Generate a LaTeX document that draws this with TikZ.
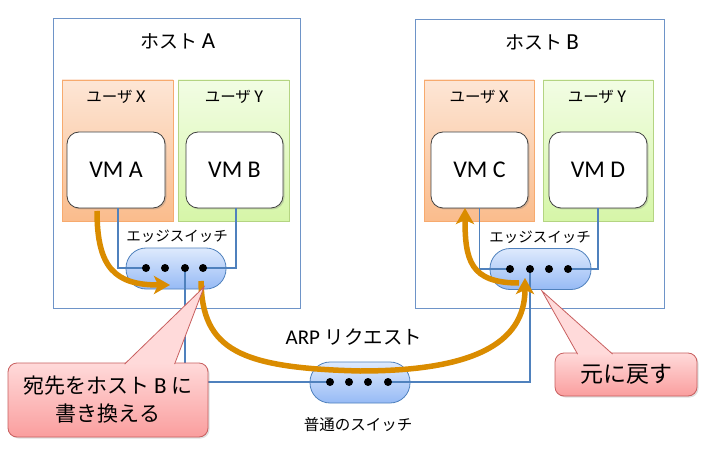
\documentclass[tikz,border=0pt]{standalone}
\usepackage{fontspec}
\setmainfont{Carlito}
\newfontfamily\jp{Noto Sans CJK JP}
\usetikzlibrary{arrows.meta,shadows,calc}
\definecolor{hostline}{RGB}{110,148,200}
\definecolor{netline}{RGB}{79,129,189}
\definecolor{uxtop}{RGB}{253,230,214}
\definecolor{uxbot}{RGB}{250,188,140}
\definecolor{uxline}{RGB}{247,170,110}
\definecolor{uytop}{RGB}{242,253,228}
\definecolor{uybot}{RGB}{214,246,168}
\definecolor{uyline}{RGB}{180,212,130}
\definecolor{swtop}{RGB}{222,234,253}
\definecolor{swbot}{RGB}{150,186,245}
\definecolor{cotop}{RGB}{255,218,218}
\definecolor{cobot}{RGB}{250,158,158}
\definecolor{coline}{RGB}{200,95,95}
\definecolor{flow}{RGB}{218,140,0}
\tikzset{
  hostbox/.style={draw=hostline, line width=1pt, fill=white, minimum width=#1, inner sep=0pt},
  userx/.style={draw=uxline, line width=0.8pt, top color=uxtop, bottom color=uxbot, inner sep=0pt,
    minimum width=111pt, minimum height=141pt, drop shadow={shadow xshift=1pt, shadow yshift=-1pt, opacity=0.25}},
  usery/.style={draw=uyline, line width=0.8pt, top color=uytop, bottom color=uybot, inner sep=0pt,
    minimum width=111pt, minimum height=141pt, drop shadow={shadow xshift=1pt, shadow yshift=-1pt, opacity=0.25}},
  vmbox/.style={draw=black!75, line width=0.8pt, fill=white, rounded corners=12pt, inner sep=0pt,
    minimum width=97pt, minimum height=76pt, font=\fontsize{24}{27}\selectfont,
    drop shadow={shadow xshift=1.5pt, shadow yshift=-1.5pt, opacity=0.3}},
  swbox/.style={draw=netline, line width=0.8pt, top color=swtop, bottom color=swbot, rounded corners=20pt,
    inner sep=0pt, minimum width=100pt, minimum height=41pt},
  portdot/.style={circle, fill=black, inner sep=0pt, minimum size=8pt},
  net/.style={draw=netline, line width=1.5pt},
  flowarrow/.style={draw=flow, line width=5.5pt, -{Stealth[length=16pt,width=18pt,inset=4pt]}},
  notebox/.style={draw=coline, line width=0.8pt, top color=cotop, bottom color=cobot, rounded corners=9pt,
    inner sep=0pt, font=\jp\fontsize{21}{28}\selectfont, align=center,
    drop shadow={shadow xshift=1.5pt, shadow yshift=-1.5pt, opacity=0.25}},
  title/.style={font=\jp\fontsize{19}{22}\selectfont},
  small/.style={font=\jp\fontsize{14.5}{16}\selectfont},
  userlab/.style={font=\jp\fontsize{15.5}{18}\selectfont},
}
\newcommand{\lat}[2][]{{\fontspec{Carlito}#1#2}}
\begin{document}
\begin{tikzpicture}[x=1pt,y=-1pt]
\useasboundingbox (0,0) rectangle (706,454);
\fill[white] (0,0) rectangle (706,454);
% hosts
\node[hostbox=247pt, minimum height=289pt] (hostA) at (176.5,163.5) {};
\node[hostbox=249pt, minimum height=288pt] (hostB) at (539.5,164) {};
\node[title] (titleA) at (178,41) {ホスト \lat[\fontsize{23}{24}\selectfont]{A}};
\node[title] (titleB) at (542,42) {ホスト \lat[\fontsize{23}{24}\selectfont]{B}};
% user areas
\node[userx] (uxA) at (117.5,150.5) {};
\node[usery] (uyA) at (233.5,150.5) {};
\node[userx, minimum width=110pt] (uxB) at (479,150.5) {};
\node[usery, minimum width=110pt] (uyB) at (598,150.5) {};
\node[userlab] (luxA) at (116,97) {ユーザ \lat[\fontsize{18}{18}\selectfont]{X}};
\node[userlab] (luyA) at (234,97) {ユーザ \lat[\fontsize{18}{18}\selectfont]{Y}};
\node[userlab] (luxB) at (479,97) {ユーザ \lat[\fontsize{18}{18}\selectfont]{X}};
\node[userlab] (luyB) at (597,97) {ユーザ \lat[\fontsize{18}{18}\selectfont]{Y}};
% VMs
\node[vmbox, minimum width=98pt] (vmA) at (116,170) {VM A};
\node[vmbox] (vmB) at (234.5,170) {VM B};
\node[vmbox] (vmC) at (479.5,170) {VM C};
\node[vmbox, minimum width=98pt] (vmD) at (598,170) {VM D};
% edge switches
\node[small] (eslA) at (177,236) {エッジスイッチ};
\node[small] (eslB) at (540,237) {エッジスイッチ};
\node[swbox] (swA) at (176,268.5) {};
\node[swbox, minimum width=101pt] (swB) at (540.5,269) {};
\node[swbox] (swC) at (360,382.5) {};
\node[font=\fontsize{21}{22}\selectfont] (arp) at (354,337) {ARP {\jp\fontsize{19.5}{22}\selectfont リクエスト}};
\node[font=\jp\fontsize{15.5}{17}\selectfont] (swClab) at (358,425) {普通のスイッチ};
% ports
\coordinate (a1) at (146,268); \coordinate (a2) at (165,268);
\coordinate (a3) at (185,268); \coordinate (a4) at (203,268);
\coordinate (b1) at (510,269); \coordinate (b2) at (530,269);
\coordinate (b3) at (549,269); \coordinate (b4) at (568,269);
\coordinate (c1) at (330,382); \coordinate (c2) at (349,382);
\coordinate (c3) at (368,382); \coordinate (c4) at (388,382);
% links
\path[net] ([xshift=2pt]vmA.south) -- ([xshift=2pt]vmA.south |- a1) -- (a1);
\path[net] ([xshift=1.5pt]vmB.south) -- ([xshift=1.5pt]vmB.south |- a4) -- (a4);
\path[net] (vmC.south) -- (vmC.south |- b1) -- (b1);
\path[net] (vmD.south) -- (vmD.south |- b4) -- (b4);
\path[net] (a3) -- (a3 |- c1) -- (c1);
\path[net] (b2) -- (b2 |- c4) -- (c4);
\foreach \p in {a1,a2,a3,a4,b1,b2,b3,b4,c1,c2,c3,c4}
  \node[portdot] (d\p) at (\p) {};
% flows
\coordinate (f1s) at (97,211);
\coordinate (f1e) at (170,285);
\coordinate (f2s) at (201,281);
\coordinate (f2m) at (360,371);
\coordinate (f2e) at (525,278);
\coordinate (f3s) at (519,283);
\coordinate (f3e) at (465,208);
\path[flowarrow] (f1s) .. controls (97,268) and (115,285) .. (f1e);
\path[flowarrow] (f2s) .. controls (202,350) and (240,368) .. (f2m)
                       .. controls (470,371) and (525,345) .. (f2e);
\path[flowarrow] (f3s) .. controls (470,283) and (465,260) .. (f3e);
% callouts
\coordinate (tip1) at (204,287);
\coordinate (tip2) at (542,291);
\node[notebox, minimum width=200pt, minimum height=74pt] (note1) at (108,400) {宛先をホスト \lat[\fontsize{23}{24}\selectfont]{B} に\\書き換える};
\node[notebox, minimum width=142pt, minimum height=43pt, font=\jp\fontsize{23}{28}\selectfont] (note2) at (626,374.5) {元に戻す};
\path[fill=cotop, draw=coline, line width=0.8pt] ($(note1.north west)+(117,1.5)$) -- (tip1) -- ($(note1.north west)+(167,1.5)$);
\path[fill=cotop, draw=coline, line width=0.8pt] ($(note2.north west)+(23,1.5)$) -- (tip2) -- ($(note2.north west)+(58,1.5)$);
\end{tikzpicture}
\end{document}
